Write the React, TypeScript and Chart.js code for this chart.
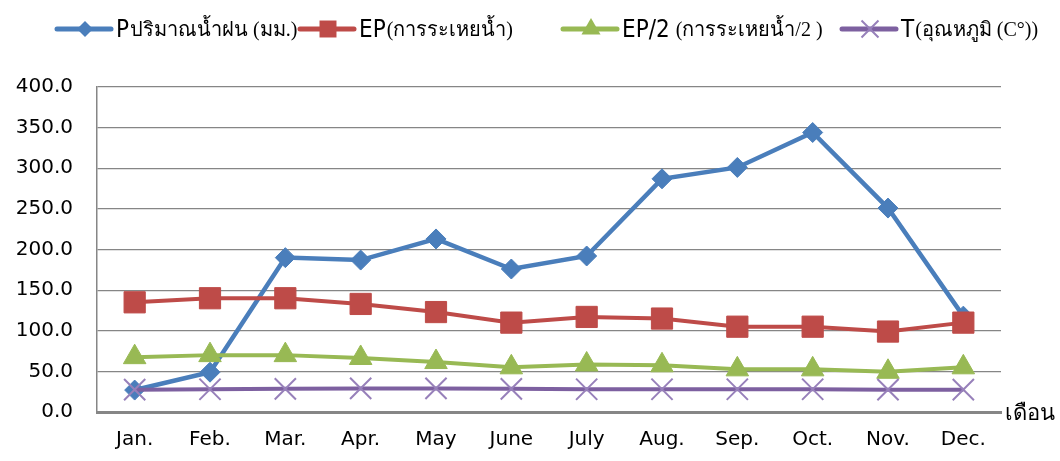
import React, { useEffect, useRef } from "react";
import { Chart, registerables } from "chart.js";

Chart.register(...registerables);

const months = ["Jan.", "Feb.", "Mar.", "Apr.", "May", "June", "July", "Aug.", "Sep.", "Oct.", "Nov.", "Dec."];
const rainfall = [27, 49, 190, 187, 213, 176, 192, 287, 301, 344, 251, 118];
const evaporation = [135, 140, 140, 133, 123, 110, 117, 115, 105, 105, 99, 110];
const evaporationHalf = [67.5, 70, 70, 66.5, 61.5, 55, 58.5, 57.5, 52.5, 52.5, 49.5, 55];
const temperature = [27.5, 28, 28.5, 29, 29, 28.5, 28, 28, 28, 28, 27.5, 27.5];
const yMin = 0;
const yMax = 400;
const yStep = 50;

const legendPrefixes = ["P", "EP", "EP/2", "T"];
const legendThai = ["ปริมาณน้ำฝน (มม.)", "(การระเหยน้ำ)", " (การระเหยน้ำ/2 )", "(อุณหภูมิ (C°))"];
const xAxisTitle = "เดือน";

const BLUE = "#4A7EBB";
const RED = "#BE4B48";
const GREEN = "#98B954";
const PURPLE = "#7D60A0";
const CROSS = "#9780BA";

function drawMarker(ctx: CanvasRenderingContext2D, style: string, x: number, y: number, r: number, fill: string, stroke: string) {
  ctx.save();
  ctx.fillStyle = fill;
  ctx.strokeStyle = stroke;
  ctx.beginPath();
  if (style === "rectRot") {
    ctx.moveTo(x, y - r);
    ctx.lineTo(x + r, y);
    ctx.lineTo(x, y + r);
    ctx.lineTo(x - r, y);
    ctx.closePath();
    ctx.fill();
  } else if (style === "rect") {
    const s = r * Math.SQRT1_2;
    ctx.rect(x - s, y - s, 2 * s, 2 * s);
    ctx.fill();
  } else if (style === "triangle") {
    ctx.moveTo(x, y - r);
    ctx.lineTo(x + r * 0.866, y + r * 0.5);
    ctx.lineTo(x - r * 0.866, y + r * 0.5);
    ctx.closePath();
    ctx.fill();
  } else {
    const o = r * Math.SQRT1_2;
    ctx.lineWidth = 2;
    ctx.moveTo(x - o, y - o);
    ctx.lineTo(x + o, y + o);
    ctx.moveTo(x + o, y - o);
    ctx.lineTo(x - o, y + o);
    ctx.stroke();
  }
  ctx.restore();
}

const legendPlugin = {
  id: "customLegend",
  afterDraw(chart: any) {
    const ctx: CanvasRenderingContext2D = chart.ctx;
    const starts = [57, 300, 563, 842];
    const lineY = 29;
    const styles = ["rectRot", "rect", "triangle", "crossRot"];
    const radii = [8, 12, 11, 12];
    chart.data.datasets.forEach((ds: any, i: number) => {
      const x0 = starts[i];
      ctx.save();
      ctx.strokeStyle = ds.borderColor;
      ctx.lineWidth = 5;
      ctx.lineCap = "round";
      ctx.beginPath();
      ctx.moveTo(x0, lineY);
      ctx.lineTo(x0 + 54, lineY);
      ctx.stroke();
      ctx.restore();
      drawMarker(ctx, styles[i], x0 + 28, lineY, radii[i], ds.pointBackgroundColor, ds.pointBorderColor);
      ctx.save();
      ctx.fillStyle = "#000";
      ctx.textBaseline = "alphabetic";
      ctx.font = "24px 'DejaVu Sans Condensed', 'DejaVu Sans'";
      const tx = x0 + 59;
      ctx.fillText(legendPrefixes[i], tx, 37);
      const w = ctx.measureText(legendPrefixes[i]).width;
      ctx.font = "20px 'Liberation Serif', serif";
      ctx.fillText(legendThai[i], tx + w + 1, 36);
      ctx.restore();
    });
    const area = chart.chartArea;
    ctx.save();
    ctx.fillStyle = "#000";
    ctx.font = "22px 'DejaVu Sans'";
    ctx.textBaseline = "alphabetic";
    ctx.fillText(xAxisTitle, area.right + 4, area.bottom + 8);
    ctx.restore();
  },
};

export default function App() {
  const ref = useRef<HTMLCanvasElement | null>(null);
  useEffect(() => {
    if (!ref.current) return;
    const chart = new Chart(ref.current, {
      type: "line",
      data: {
        labels: months,
        datasets: [
          {
            label: legendPrefixes[0] + legendThai[0],
            data: rainfall,
            borderColor: BLUE,
            backgroundColor: BLUE,
            pointBackgroundColor: BLUE,
            pointBorderColor: BLUE,
            borderWidth: 4.5,
            pointStyle: "rectRot",
            pointRadius: 10,
            pointBorderWidth: 1,
            order: 4,
          },
          {
            label: legendPrefixes[1] + legendThai[1],
            data: evaporation,
            borderColor: RED,
            backgroundColor: RED,
            pointBackgroundColor: RED,
            pointBorderColor: RED,
            borderWidth: 4,
            pointStyle: "rect",
            pointRadius: 15,
            pointBorderWidth: 1,
            order: 3,
          },
          {
            label: legendPrefixes[2] + legendThai[2],
            data: evaporationHalf,
            borderColor: GREEN,
            backgroundColor: GREEN,
            pointBackgroundColor: GREEN,
            pointBorderColor: GREEN,
            borderWidth: 4,
            pointStyle: "triangle",
            pointRadius: 13,
            pointBorderWidth: 1,
            order: 2,
          },
          {
            label: legendPrefixes[3] + legendThai[3],
            data: temperature,
            borderColor: PURPLE,
            backgroundColor: CROSS,
            pointBackgroundColor: CROSS,
            pointBorderColor: CROSS,
            borderWidth: 4,
            pointStyle: "crossRot",
            pointRadius: 15,
            pointBorderWidth: 2,
            order: 1,
          },
        ],
      },
      options: {
        animation: false,
        responsive: false,
        maintainAspectRatio: false,
        devicePixelRatio: 1,
        layout: { padding: { top: 87, right: 59, left: 0, bottom: 0 } },
        plugins: {
          legend: { display: false },
          tooltip: { enabled: false },
        },
        elements: { line: { tension: 0 } },
        scales: {
          x: {
            offset: true,
            grid: { display: false, drawTicks: false, offset: true },
            border: { display: true, color: "#868686", width: 3 },
            ticks: {
              color: "#000",
              padding: 16,
              font: { family: "'DejaVu Sans'", size: 20 },
              maxRotation: 0,
              autoSkip: false,
            },
            afterFit(axis: any) {
              axis.height = 49;
            },
          },
          y: {
            min: yMin,
            max: yMax,
            grid: { color: "#868686", lineWidth: 1.2, drawTicks: false },
            border: { display: true, color: "#868686", width: 1.5 },
            ticks: {
              stepSize: yStep,
              color: "#000",
              padding: 24,
              font: { family: "'DejaVu Sans'", size: 20 },
              callback: (v: any) => Number(v).toFixed(1),
            },
            afterFit(axis: any) {
              axis.width = 97;
            },
          },
        },
      },
      plugins: [legendPlugin],
    });
    return () => chart.destroy();
  }, []);
  return (
    <div style={{ position: "absolute", left: 0, top: 0, width: 1060, height: 461, background: "#fff" }}>
      <canvas ref={ref} width={1060} height={461} style={{ display: "block", width: 1060, height: 461 }} />
    </div>
  );
}
